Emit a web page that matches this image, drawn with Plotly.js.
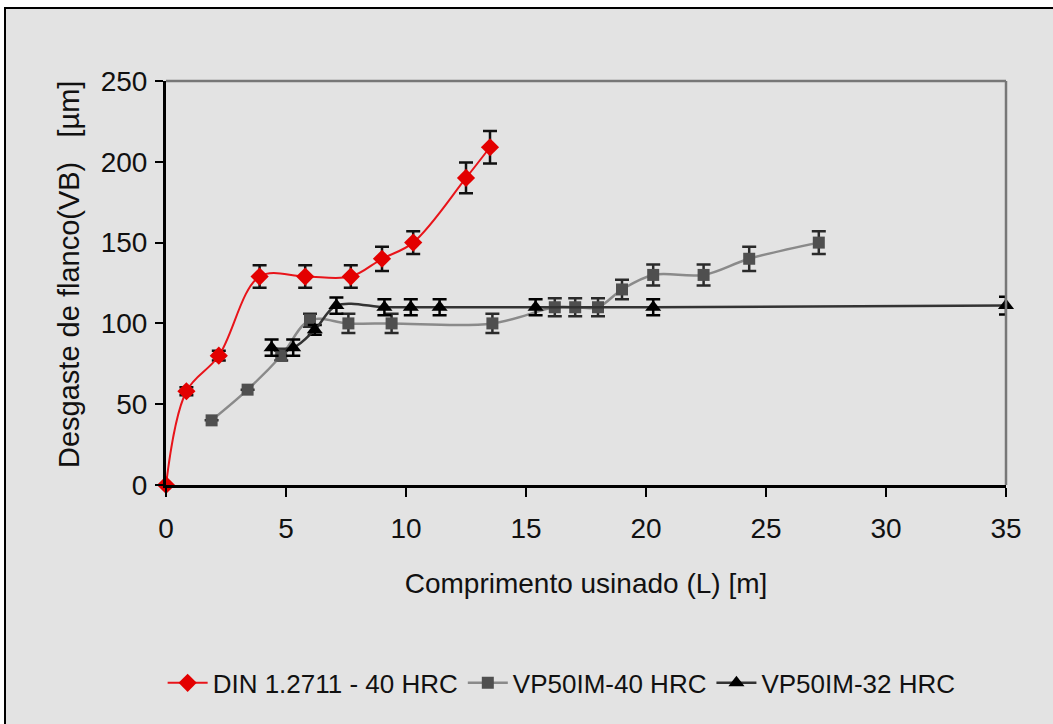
<!DOCTYPE html>
<html>
<head>
<meta charset="utf-8">
<script src="https://cdn.plot.ly/plotly-3.0.1.min.js"></script>
<style>
  html, body { margin: 0; padding: 0; background: #fff; width: 1053px; height: 724px; overflow: hidden; }
  #frame { position: absolute; left: 4px; top: 7px; width: 1100px; height: 800px;
           border-left: 2px solid #000; border-top: 2px solid #000; background: #e3e3e3; }
  #plot { position: absolute; left: 6px; top: 9px; width: 1047px; height: 715px; }
</style>
</head>
<body>
<div id="frame"></div>
<div id="plot"></div>
<script>
// DIN 1.2711 - 40 HRC
const dinX   = [0, 0.85, 2.2, 3.9, 5.8, 7.7, 9.0, 10.3, 12.5, 13.5];
const dinY   = [0, 58, 80, 129, 129, 129, 140, 150, 190, 209];
const dinErr = [0, 2.5, 3, 7, 7, 7, 7.5, 7, 9.5, 10];

// VP50IM-40 HRC
const vp40X   = [1.9, 3.4, 4.8, 6.0, 7.6, 9.4, 13.6, 16.2, 17.05, 18.0, 19.0, 20.3, 22.4, 24.3, 27.2];
const vp40Y   = [40, 59, 80, 102, 100, 100, 100, 110, 110, 110, 121, 130, 130, 140, 150];
const vp40Err = [0, 0, 3, 4, 6, 6, 6, 5.5, 5.5, 5.5, 6, 6.5, 6.5, 7.5, 7];

// VP50IM-32 HRC
const vp32X   = [4.4, 5.3, 6.2, 7.1, 9.1, 10.2, 11.4, 15.4, 20.3, 35];
const vp32Y   = [85, 85, 96, 111, 110, 110, 110, 110, 110, 111];
const vp32Err = [5, 5, 3, 5, 5, 5, 5, 5, 5, 5.5];

const seriesNames = ['DIN 1.2711 - 40 HRC', 'VP50IM-40 HRC', 'VP50IM-32 HRC'];
const xTicks = [0, 5, 10, 15, 20, 25, 30, 35];
const yTicks = [0, 50, 100, 150, 200, 250];
const xTitle = 'Comprimento usinado (L) [m]';
const yTitle = 'Desgaste de flanco(VB)\u00a0\u00a0\u00a0[µm]';

const FONT = '"Liberation Sans", Arial, sans-serif';

const errStyle = (arr, col) => ({ type: 'data', array: arr, visible: true, color: col, thickness: 2.5, width: 7 });

const traces = [
  {
    x: dinX, y: dinY, name: seriesNames[0], type: 'scatter', mode: 'lines+markers',
    line: { color: '#e8141a', width: 2, shape: 'spline', smoothing: 1 },
    marker: { symbol: 'diamond', size: 14, color: '#e30000' },
    error_y: errStyle(dinErr, '#111'),
    cliponaxis: false, legendrank: 1
  },
  {
    x: vp40X, y: vp40Y, name: seriesNames[1], type: 'scatter', mode: 'lines+markers',
    line: { color: '#8a8a8a', width: 2.5, shape: 'spline', smoothing: 1 },
    marker: { symbol: 'square', size: 12, color: '#4f4f4f' },
    error_y: errStyle(vp40Err, '#2a2a2a'),
    cliponaxis: false, legendrank: 2
  },
  {
    x: vp32X, y: vp32Y, name: seriesNames[2], type: 'scatter', mode: 'lines+markers',
    line: { color: '#333', width: 2.5, shape: 'spline', smoothing: 1 },
    marker: { symbol: 'triangle-up', size: 14, color: '#000' },
    error_y: errStyle(vp32Err, '#000'),
    cliponaxis: false, legendrank: 3
  }
];

const layout = {
  width: 1047, height: 715,
  margin: { l: 160, r: 47, t: 72, b: 239 },
  paper_bgcolor: 'rgba(0,0,0,0)',
  plot_bgcolor: '#e3e3e3',
  font: { family: FONT, color: '#111', size: 28 },
  showlegend: true,
  legend: {
    orientation: 'h', x: 0.471, xanchor: 'center', y: -0.49, yanchor: 'middle',
    font: { family: FONT, size: 26, color: '#111' }, bgcolor: 'rgba(0,0,0,0)',
    traceorder: 'normal', itemwidth: 40
  },
  xaxis: {
    range: [0, 35], tickvals: xTicks, ticktext: xTicks.map(String),
    showgrid: false, zeroline: false,
    showline: true, linecolor: '#000', linewidth: 3,
    ticks: 'outside', ticklen: 9, tickwidth: 2, tickcolor: '#000',
    tickfont: { family: FONT, size: 28, color: '#111' },
    ticklabelstandoff: 7,
    title: { text: xTitle, font: { family: FONT, size: 28, color: '#111' }, standoff: 31 }
  },
  yaxis: {
    range: [0, 250], tickvals: yTicks, ticktext: yTicks.map(String),
    showgrid: false, zeroline: false,
    showline: true, linecolor: '#000', linewidth: 3,
    ticks: 'outside', ticklen: 8, tickwidth: 2, tickcolor: '#000',
    tickfont: { family: FONT, size: 28, color: '#111' },
    ticklabelstandoff: 2
  },
  annotations: [
    { text: yTitle, xref: 'paper', yref: 'paper', x: 0, y: 0.5, xanchor: 'center', yanchor: 'middle',
      xshift: -97, yshift: 8, textangle: -90, showarrow: false,
      font: { family: FONT, size: 29, color: '#111' } }
  ],
  shapes: [
    { type: 'line', xref: 'paper', yref: 'paper', x0: 0, x1: 1, y0: 1, y1: 1, line: { color: '#777', width: 2.5 } },
    { type: 'line', xref: 'paper', yref: 'paper', x0: 1, x1: 1, y0: 0, y1: 1, line: { color: '#777', width: 2.5 } }
  ]
};

Plotly.newPlot('plot', [traces[1], traces[2], traces[0]], layout, { displayModeBar: false, staticPlot: true });
</script>
</body>
</html>
